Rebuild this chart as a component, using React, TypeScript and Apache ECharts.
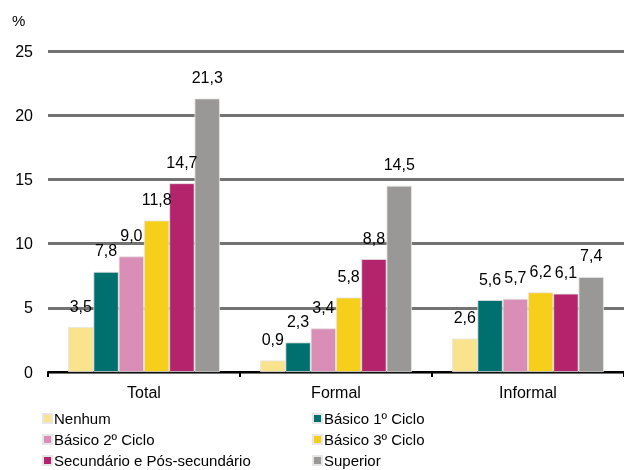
import React, { useEffect, useRef } from "react";
import * as echarts from "echarts";

const categories = ["Total", "Formal", "Informal"];
const seriesNames = [
  "Nenhum",
  "Básico 1º Ciclo",
  "Básico 2º Ciclo",
  "Básico 3º Ciclo",
  "Secundário e Pós-secundário",
  "Superior",
];
const nenhum = [3.5, 0.9, 2.6];
const basico1 = [7.8, 2.3, 5.6];
const basico2 = [9.0, 3.4, 5.7];
const basico3 = [11.8, 5.8, 6.2];
const secundario = [14.7, 8.8, 6.1];
const superior = [21.3, 14.5, 7.4];
const yTicks = [0, 5, 10, 15, 20, 25];

const seriesData = [nenhum, basico1, basico2, basico3, secundario, superior];
const colors = ["#F9E38C", "#00706E", "#D98FB5", "#F5CF1A", "#B3246D", "#999896"];

const FONT = "Liberation Sans, Arial, sans-serif";

export default function App() {
  const ref = useRef<HTMLDivElement>(null);
  useEffect(() => {
    if (!ref.current) return;
    const chart = echarts.init(ref.current, null, { renderer: "svg" });
    const legendBase = {
      orient: "vertical",
      top: 411,
      padding: 0,
      itemWidth: 9,
      itemHeight: 9,
      itemGap: 6,
      icon: "rect",
      textStyle: { fontSize: 15, fontFamily: FONT, color: "#000", padding: [0, 0, 0, -3] },
    };
    chart.setOption({
      animation: false,
      textStyle: { fontFamily: FONT },
      grid: { left: 48, right: 0, top: 51, bottom: 98, containLabel: false },
      graphic: [
        {
          type: "text",
          left: 12,
          top: 13,
          style: { text: "%", fontSize: 15, fontFamily: FONT, fill: "#000" },
        },
      ],
      legend: [
        { ...legendBase, left: 42, data: [seriesNames[0], seriesNames[2], seriesNames[4]] },
        { ...legendBase, left: 312, data: [seriesNames[1], seriesNames[3], seriesNames[5]] },
      ],
      xAxis: {
        type: "category",
        data: categories,
        axisLine: { lineStyle: { color: "#000", width: 2 } },
        axisTick: { show: true, length: 5, lineStyle: { color: "#000", width: 2 } },
        axisLabel: { fontSize: 16, color: "#000", margin: 12, fontFamily: FONT },
      },
      yAxis: {
        type: "value",
        min: yTicks[0],
        max: yTicks[yTicks.length - 1],
        interval: 5,
        axisLine: { show: false },
        axisTick: { show: false },
        axisLabel: { fontSize: 16, color: "#000", margin: 15, fontFamily: FONT },
        splitLine: { lineStyle: { color: "#737373", width: 3 } },
      },
      series: seriesData.map((d, i) => ({
        name: seriesNames[i],
        type: "bar",
        data: d,
        barGap: "0%",
        barCategoryGap: "21%",
        itemStyle: { color: colors[i], borderColor: "#e6e6e6", borderWidth: 0.8 },
        label: {
          show: true,
          position: "top",
          distance: 13,
          fontSize: 16,
          color: "#000",
          fontFamily: FONT,
          formatter: (p: any) => p.value.toFixed(1).replace(".", ","),
        },
      })),
    });
    return () => chart.dispose();
  }, []);
  return (
    <div
      ref={ref}
      style={{ position: "fixed", left: 0, top: 0, width: 624, height: 470 }}
    />
  );
}
